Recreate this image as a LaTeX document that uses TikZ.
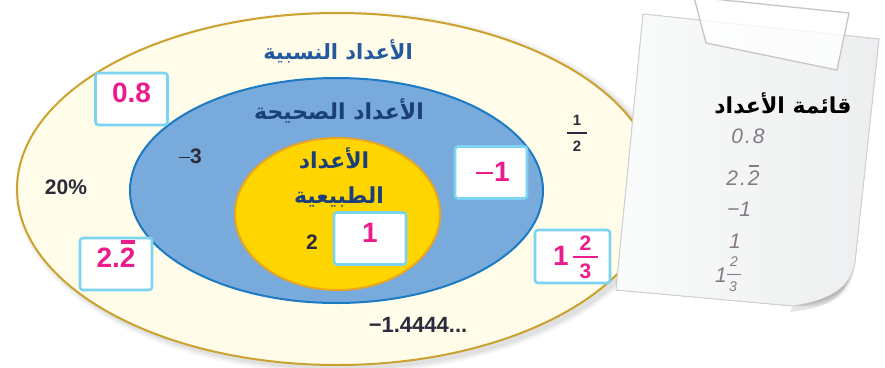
\documentclass[tikz,border=0pt]{standalone}
\usepackage{fontspec}
\setmainfont{Liberation Sans}
\newfontfamily\arabicfont[Script=Arabic]{DejaVu Sans}
\TeXXeTstate=1
\usetikzlibrary{shapes.geometric}
\definecolor{cream}{HTML}{FFFCE9}
\definecolor{gold}{HTML}{CBA22E}
\definecolor{bluefill}{HTML}{78AADC}
\definecolor{blueline}{HTML}{1C7AC3}
\definecolor{yellowfill}{HTML}{FFD500}
\definecolor{yellowline}{HTML}{E9A61E}
\definecolor{boxline}{HTML}{7DD3F2}
\definecolor{pinknum}{HTML}{EC1C8C}
\definecolor{navy}{HTML}{1B3F7A}
\definecolor{titleblue}{HTML}{24599C}
\definecolor{darklabel}{HTML}{2B2B3B}
\definecolor{paperA}{HTML}{FAFBFB}
\definecolor{paperB}{HTML}{ECEEEF}
\definecolor{paperedge}{HTML}{CFD1D2}
\definecolor{handgray}{HTML}{857A84}
\newcommand\barred[1]{\setbox0=\hbox{#1}\rlap{\hbox to \wd0{\hss\rule[0.86em]{0.9\wd0}{0.11em}\hss}}\box0}
\tikzset{
  setellipse/.style={ellipse, inner sep=0pt, outer sep=0pt},
  numbox/.style={draw=boxline, line width=2.6pt, fill=white, rounded corners=3pt,
    minimum width=72pt, minimum height=52pt, inner sep=0pt, text=pinknum,
    font=\bfseries\fontsize{28}{30}\selectfont, text height=0.72em, text depth=0pt},
  darknum/.style={text=darklabel, font=\bfseries\fontsize{21}{23}\selectfont, inner sep=0pt},
  arlabel/.style={font=\arabicfont\bfseries\fontsize{22}{25}\selectfont, inner sep=0pt},
  handnum/.style={text=handgray, font=\itshape\fontsize{21}{23}\selectfont, inner sep=0pt},
}
\begin{document}
\begin{tikzpicture}[x=1pt,y=-1pt]
\useasboundingbox (0,0) rectangle (885,367);
\fill[white] (0,0) rectangle (885,367);

% soft shadow of the outer set
\foreach \s/\o in {6/0.03,4/0.04,2/0.05}{
  \fill[black,opacity=\o] (341,192) ellipse [x radius=320+\s, y radius=176+\s];
}
% sets
\node[setellipse, fill=cream, draw=gold, line width=2pt, minimum width=640pt, minimum height=352pt] (rational) at (337,189) {};
\node[setellipse, fill=bluefill, draw=blueline, line width=2pt, minimum width=413pt, minimum height=225pt] (integer) at (336.5,190.5) {};
\node[setellipse, fill=yellowfill, draw=yellowline, line width=2pt, minimum width=205pt, minimum height=152pt] (natural) at (337.5,214) {};

% paper note with shadow
\coordinate (pTL) at (643,14);
\coordinate (pTR) at (879,39);
\coordinate (pBR) at (855,262);
\coordinate (pBC) at (793,306);
\coordinate (pBL) at (616,290);
\foreach \dx/\dy/\o in {2/10/0.04,1/7/0.06,0/4/0.08,0/2/0.08}{
  \fill[black,opacity=\o,shift={(\dx,\dy)}] (pTL) -- (pTR) -- (pBR) .. controls (851,288) and (830,300) .. (pBC) -- (pBL) -- cycle;
}
\fill[black,opacity=0.10] (852,268) .. controls (848,295) and (830,308) .. (790,312) -- (793,306) .. controls (830,300) and (851,288) .. (855,262) -- cycle;
\fill[left color=paperA, right color=paperB] (pTL) -- (pTR) -- (pBR) .. controls (851,288) and (830,300) .. (pBC) -- (pBL) -- cycle;
\draw[paperedge, line width=1pt] (pTL) -- (pTR) -- (pBR) .. controls (851,288) and (830,300) .. (pBC) -- (pBL) -- cycle;
% tape
\filldraw[fill=white, fill opacity=0.8, draw=gray!45, line width=1.3pt] (694,-3) -- (849,13) -- (837,70) -- (706,43) -- cycle;

% set titles
\node[arlabel, text=titleblue, font=\arabicfont\bfseries\fontsize{21}{24}\selectfont] (tRat) at (338,51) {\beginR الأعداد النسبية\endR};
\node[arlabel, text=navy] (tInt) at (339,111) {\beginR الأعداد الصحيحة\endR};
\node[arlabel, text=navy] (tNat1) at (334,158) {\beginR الأعداد\endR};
\node[arlabel, text=navy] (tNat2) at (339,197) {\beginR الطبيعية\endR};

% plain numbers
\node[darknum] (n20) at (66,187) {20\%};
\node[darknum] (nm3) at (196,156) {3};
\draw[darklabel, line width=1.9pt] (179,157.5) coordinate (m3L) -- (190,157.5) coordinate (m3R);
\node[darknum] (n2) at (312,242) {2};
\node[darknum, font=\bfseries\fontsize{22}{24}\selectfont] (nm14) at (418,325) {−1.4444...};
\node[darknum, font=\bfseries\fontsize{15}{16}\selectfont] (nh1) at (577,120) {1};
\node[darknum, font=\bfseries\fontsize{15}{16}\selectfont] (nh2) at (577,146) {2};
\draw[darklabel, line width=2.2pt] (567,133) coordinate (hbarL) -- (587,133) coordinate (hbarR);

% boxed numbers
\node[numbox] (b08) at (131.5,99) {0.8};
\node[numbox] (b22) at (116,264) {2.\barred{2}};
\node[numbox] (bm1) at (491,172.5) {};
\node[text=pinknum, font=\bfseries\fontsize{28}{30}\selectfont, inner sep=0pt] (bm1d) at (502,171.5) {1};
\draw[pinknum, line width=2.8pt] (476,173) coordinate (m1L) -- (493,173) coordinate (m1R);
\node[numbox] (b1) at (370,238.5) {1};
\node[numbox, minimum width=75pt, minimum height=53pt] (b53) at (572.5,256.5) {};
\node[text=pinknum, font=\bfseries\fontsize{28}{30}\selectfont, inner sep=0pt] (b53w) at (561,256) {1};
\node[text=pinknum, font=\bfseries\fontsize{21}{23}\selectfont, inner sep=0pt] (b53n) at (585.5,243) {2};
\node[text=pinknum, font=\bfseries\fontsize{21}{23}\selectfont, inner sep=0pt] (b53d) at (585.5,271) {3};
\draw[pinknum, line width=2.6pt] (573,257) coordinate (fbarL) -- (598,257) coordinate (fbarR);

% list on the note
\node[font=\arabicfont\bfseries\fontsize{22}{25}\selectfont, text=black, inner sep=0pt] (tList) at (783,103) {\beginR قائمة الأعداد\endR};
\node[handnum] (l08) at (748,136) {0\kern2pt.\kern2pt8};
\node[handnum] (l22) at (743,175) {2\kern2pt.\kern2pt\barred{2}};
\node[handnum] (lm1) at (739,209) {−1};
\node[handnum] (l1) at (735,241) {1};
\node[handnum] (l53w) at (721,275) {1};
\node[handnum, font=\itshape\fontsize{14}{15}\selectfont] (l53n) at (734,262) {2};
\node[handnum, font=\itshape\fontsize{14}{15}\selectfont] (l53d) at (733,287) {3};
\draw[handgray, line width=0.8pt] (727,274) coordinate (lbarL) -- (741,274) coordinate (lbarR);
\end{tikzpicture}
\end{document}
